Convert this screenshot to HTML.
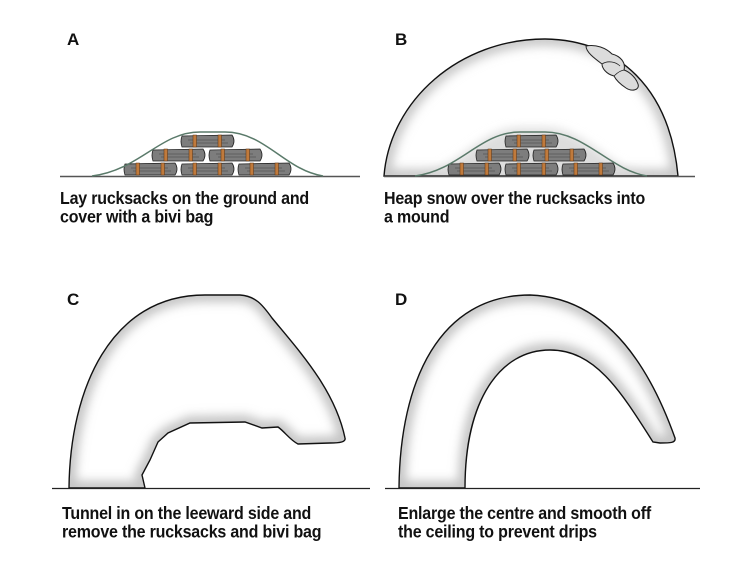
<!DOCTYPE html>
<html><head><style>
html,body{margin:0;padding:0;background:#fff;width:742px;height:571px;overflow:hidden}
.t{position:absolute;font-family:"Liberation Sans Narrow","Liberation Sans",sans-serif;font-weight:bold;font-size:16px;line-height:17px;color:#111;letter-spacing:-0.2px;transform:scaleY(1.08);transform-origin:0 0}
.l{position:absolute;font-family:"Liberation Sans",sans-serif;font-weight:bold;font-size:17px;color:#111}
</style></head><body>
<svg width="742" height="571" style="position:absolute;left:0;top:0">
<defs>
<filter id="bl" x="-20%" y="-20%" width="140%" height="140%"><feGaussianBlur stdDeviation="5"/></filter>
<g id="sack">
 <path d="M2,2 Q0,7 2,13 L52,13 Q56,7 52,1 Z" fill="#7d7d7d" stroke="#222" stroke-width="0.8"/>
 <line x1="8" y1="6" x2="45" y2="6" stroke="#444" stroke-width="0.6"/>
 <line x1="10" y1="9" x2="48" y2="9" stroke="#444" stroke-width="0.6"/>
 <rect x="13" y="1" width="3.5" height="12" fill="#c07a3c" stroke="#5a3010" stroke-width="0.5"/>
 <rect x="38" y="1" width="3.5" height="12" fill="#c07a3c" stroke="#5a3010" stroke-width="0.5"/>
</g>
<g id="pile">
 <use href="#sack" x="0" y="162"/><use href="#sack" x="57" y="162"/><use href="#sack" x="114" y="162"/>
 <use href="#sack" x="28" y="148"/><use href="#sack" x="85" y="148"/>
 <use href="#sack" x="57" y="134"/>
</g>
<path id="pB" d="M384,176 C390,100 460,39 545,39 C620,40 670,90 678,176 Z"/>
<path id="pC" d="M69,488 C70,390 110,295 205,295 L240,295 C255,296 262,304 272,318 C300,352 335,390 345,438 C346,442 340,443 330,443 L298,444 C290,440 285,432 278,427 L262,428 L245,422 L190,423 L168,433 L158,442 L150,460 L142,475 L145,488 Z"/>
<path id="pD" d="M399,488 C400,380 440,295 530,295 C590,297 640,340 675,438 C676,443 670,443 660,443 L653,442 C620,390 595,350 550,350 C500,350 465,400 465,488 Z"/>
<clipPath id="cB"><use href="#pB"/></clipPath>
<clipPath id="cC"><use href="#pC"/></clipPath>
<clipPath id="cD"><use href="#pD"/></clipPath>
</defs>

<!-- A -->
<line x1="60" y1="176.5" x2="360" y2="176.5" stroke="#555" stroke-width="1.5"/>
<use href="#pile" x="123"/>
<path d="M92,176 C140,170 160,132 200,132 L225,132 C265,132 285,170 323,176" fill="none" stroke="#5a7a6a" stroke-width="1.5"/>

<!-- B -->
<g clip-path="url(#cB)">
 <use href="#pB" fill="#fff"/>
 <use href="#pB" fill="none" stroke="#c8c8c8" stroke-width="14" filter="url(#bl)"/>
 <path d="M415,176 C460,170 480,128 520,128 L545,128 C585,128 610,170 647,176 Z" fill="#ddd" filter="url(#bl)"/>
</g>
<use href="#pB" fill="none" stroke="#111" stroke-width="1.4"/>
<path d="M586,46 C596,44 606,48 612,54 C620,56 626,62 624,70 C630,72 636,78 638,84 C640,90 632,92 626,88 C620,84 616,80 614,76 C606,74 602,68 602,64 C594,58 586,52 586,46 Z" fill="#dcdcdc" stroke="#222" stroke-width="1"/>
<path d="M602,64 C608,60 616,62 620,66 M614,76 C618,72 622,70 625,70" fill="none" stroke="#222" stroke-width="0.8"/>
<line x1="384" y1="176.5" x2="695" y2="176.5" stroke="#555" stroke-width="1.5"/>
<use href="#pile" x="447"/>
<path d="M415,176 C460,170 480,132 520,132 L545,132 C585,132 610,170 647,176" fill="none" stroke="#5a7a6a" stroke-width="1.5"/>

<!-- C -->
<g clip-path="url(#cC)">
 <use href="#pC" fill="#fff"/>
 <use href="#pC" fill="none" stroke="#c4c4c4" stroke-width="14" filter="url(#bl)"/>
</g>
<use href="#pC" fill="none" stroke="#111" stroke-width="1.4"/>
<line x1="52" y1="488.5" x2="370" y2="488.5" stroke="#222" stroke-width="1.2"/>

<!-- D -->
<g clip-path="url(#cD)">
 <use href="#pD" fill="#fff"/>
 <use href="#pD" fill="none" stroke="#c4c4c4" stroke-width="14" filter="url(#bl)"/>
</g>
<use href="#pD" fill="none" stroke="#111" stroke-width="1.4"/>
<line x1="385" y1="488.5" x2="700" y2="488.5" stroke="#222" stroke-width="1.2"/>
</svg>

<div class="l" style="left:67px;top:30px">A</div>
<div class="l" style="left:395px;top:30px">B</div>
<div class="l" style="left:67px;top:290px">C</div>
<div class="l" style="left:395px;top:290px">D</div>
<div class="t" style="left:60px;top:190px">Lay rucksacks on the ground and<br>cover with a bivi bag</div>
<div class="t" style="left:384px;top:190px">Heap snow over the rucksacks into<br>a mound</div>
<div class="t" style="left:62px;top:505px">Tunnel in on the leeward side and<br>remove the rucksacks and bivi bag</div>
<div class="t" style="left:398px;top:505px">Enlarge the centre and smooth off<br>the ceiling to prevent drips</div>
</body></html>
